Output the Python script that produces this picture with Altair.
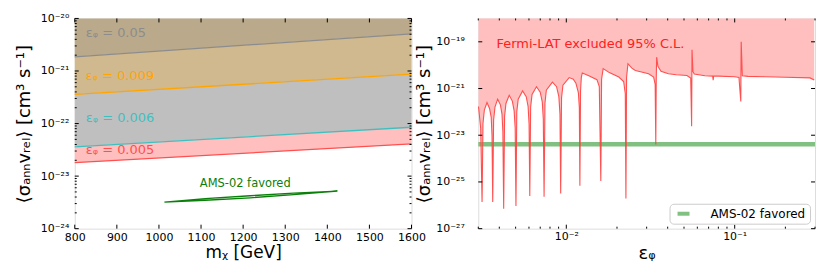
import altair as alt
import pandas as pd

# ---------------- data: left panel ----------------
MX = [800, 1600]
SIG_E005 = [1.86e-21, 5.1e-21]
SIG_E009 = [3.6e-22, 8.7e-22]
SIG_E006 = [3.6e-23, 8.5e-23]
SIG_E0050 = [1.8e-23, 4.1e-23]
LEFT_TOP = [1e-20, 1e-20]

EPS_LABELS = ["εᵩ = 0.05", "εᵩ = 0.009", "εᵩ = 0.006", "εᵩ = 0.005"]
EPS_LABEL_MX = [826, 826, 826, 826]
EPS_LABEL_SIG = [5.2e-21, 7.9e-22, 1.26e-22, 3.16e-23]
LINE_COLORS = ["#8c8c8c", "#ffa500", "#3fc0c0", "#ff5050"]
FILL_COLORS = ["#baaa8b", "#d1b98f", "#bfbfbf", "#ffbfbf"]

AMS_MX = [1013, 1110, 1217, 1320, 1424, 1320, 1217, 1110, 1013]
AMS_SIG = [3.21e-24, 3.72e-24, 4.23e-24, 4.76e-24, 5.19e-24, 4.45e-24, 3.87e-24, 3.47e-24, 3.21e-24]
AMS_TEXT_MX = [1205]
AMS_TEXT_SIG = [7.1e-24]

LEFT_X_TICKS = [800, 900, 1000, 1100, 1200, 1300, 1400, 1500, 1600]
LEFT_Y_TICKS = [1e-24, 1e-23, 1e-22, 1e-21, 1e-20]
LEFT_Y_EXP = [-24, -23, -22, -21, -20]
LEFT_Y_LABELS = ["10⁻²⁴", "10⁻²³", "10⁻²²", "10⁻²¹", "10⁻²⁰"]

# ---------------- data: right panel ----------------
EPS = [0.00301, 0.00310, 0.00316,
       0.00320, 0.00326, 0.00338, 0.00350, 0.00358, 0.00362, 0.003656,
       0.00370, 0.00377, 0.00391, 0.00406, 0.00415, 0.00420, 0.004247,
       0.00430, 0.00438, 0.00458, 0.00478, 0.00490, 0.00497, 0.005023,
       0.00508, 0.00518, 0.00550, 0.00578, 0.00593, 0.00601, 0.006069,
       0.00614, 0.00626, 0.00665, 0.00700, 0.00720, 0.00730, 0.007379,
       0.00747, 0.00761, 0.00827, 0.00875, 0.00903, 0.00917, 0.00926,
       0.00937, 0.00955, 0.0104, 0.0110, 0.0114, 0.0118, 0.01195, 0.01204,
       0.01215, 0.01228, 0.01244, 0.0136, 0.0152, 0.0157, 0.01603,
       0.0162, 0.01655, 0.0180, 0.0205, 0.0219, 0.0224, 0.0226,
       0.0228, 0.02323, 0.0245, 0.0257, 0.0308, 0.0330, 0.0337, 0.0340,
       0.0342, 0.0344, 0.0350, 0.0365, 0.0404, 0.0450, 0.0520, 0.0548, 0.0555,
       0.0558, 0.0565, 0.0575, 0.0665, 0.0740, 0.0745, 0.0750, 0.0800, 0.1000, 0.1060, 0.1087,
       0.1093, 0.1110, 0.1200, 0.1500, 0.2000, 0.2800, 0.2968]
SIGMA = [1.7e-22, 2.0e-23, 1.4e-26,
         3.2e-23, 1.2e-22, 2.5e-22, 1.4e-22, 6e-23, 1.0e-23, 1.4e-26,
         4.5e-23, 1.6e-22, 3.5e-22, 2.0e-22, 8e-23, 1.4e-23, 7.2e-27,
         6.4e-23, 2.3e-22, 5.1e-22, 2.9e-22, 1.1e-22, 2e-23, 9.3e-27,
         1.0e-22, 3.5e-22, 7.9e-22, 4.5e-22, 1.7e-22, 3e-23, 2.5e-26,
         1.6e-22, 5.6e-22, 1.2e-21, 7.0e-22, 2.6e-22, 5e-23, 2.3e-26,
         2.4e-22, 8.5e-22, 1.86e-21, 1.2e-21, 4.5e-22, 8e-23, 3.2e-26,
         4e-22, 1.4e-21, 2.95e-21, 2.5e-21, 1.7e-21, 6.5e-22, 1.5e-22, 6.8e-26,
         8e-22, 3.0e-21, 4.6e-21, 3.5e-21, 2.4e-21, 1.2e-21, 1.1e-25,
         2.5e-21, 7.1e-21, 4.8e-21, 3.1e-21, 2.0e-21, 6e-22, 1.95e-26,
         3e-21, 1.15e-20, 7.5e-21, 5.9e-21, 4.3e-21, 3.1e-21, 1.5e-21, 4e-24,
         2e-21, 2.2e-20, 9e-21, 5.5e-21, 4.3e-21, 3.9e-21, 3.6e-21, 2.8e-21, 2.4e-23,
         4.6e-20, 5.4e-21, 4.2e-21, 3.5e-21, 3.4e-21, 2.3e-21, 3.4e-21, 3.4e-21, 3.2e-21, 3.0e-21, 2.8e-22,
         1.0e-19, 3.5e-21, 3.3e-21, 3.2e-21, 3.05e-21, 2.85e-21, 2.3e-21]
RIGHT_TOP = 1e-18

BAND_EPS = [0.003, 0.3]
BAND_LO = [3.3e-24, 3.3e-24]
BAND_HI = [5.1e-24, 5.1e-24]
BAND_NAME = "AMS-02 favored"

FERMI_TEXT = "Fermi-LAT excluded 95% C.L."
FERMI_TEXT_EPS = [0.00385]
FERMI_TEXT_SIG = [8.2e-20]

RIGHT_X_TICKS = [0.01, 0.1]
RIGHT_X_EXP = [-2, -1]
RIGHT_X_LABELS = ["10⁻²", "10⁻¹"]
RIGHT_X_MINOR = [0.003, 0.004, 0.005, 0.006, 0.007, 0.008, 0.009,
                 0.02, 0.03, 0.04, 0.05, 0.06, 0.07, 0.08, 0.09, 0.2, 0.3]
RIGHT_Y_TICKS = [1e-27, 1e-25, 1e-23, 1e-21, 1e-19]
RIGHT_Y_EXP = [-27, -25, -23, -21, -19]
RIGHT_Y_LABELS = ["10⁻²⁷", "10⁻²⁵", "10⁻²³", "10⁻²¹", "10⁻¹⁹"]

LEFT_Y_MINOR = [k * 10.0 ** e for e in (-24, -23, -22, -21) for k in range(2, 10)]

YTITLE = "⟨σₐₙₙvᵣₑₗ⟩ [cm³ s⁻¹]"

W, H = 338, 211
FONT = "DejaVu Sans"


def lab_expr(labels, exps):
    expr = "''"
    for lab, e in zip(labels, exps):
        expr = f"round(log(datum.value)/LN10) == {e} ? '{lab}' : ({expr})"
    return expr


# ---------------- scales & axes ----------------
lx = alt.Scale(domain=[800, 1600], zero=False, nice=False)
ly = alt.Scale(type="log", domain=[1e-24, 1e-20], nice=False)
rx = alt.Scale(type="log", domain=[0.003, 0.3], nice=False)
ry = alt.Scale(type="log", domain=[1e-27, RIGHT_TOP], nice=False)

common = dict(ticks=False, tickSize=0, domain=False, grid=False, labelFontSize=11,
              titleFontWeight="normal", labelColor="black", titleColor="black")
xaxis_l = alt.Axis(values=LEFT_X_TICKS, format="d", title="mᵪ [GeV]", labelFlush=False,
                   labelPadding=3, titleFontSize=17, titlePadding=2, **common)
yaxis_l = alt.Axis(values=LEFT_Y_TICKS, labelExpr=lab_expr(LEFT_Y_LABELS, LEFT_Y_EXP),
                   title=YTITLE, labelPadding=6, titleFontSize=18, titlePadding=7, **common)
xaxis_r = alt.Axis(values=RIGHT_X_TICKS, labelExpr=lab_expr(RIGHT_X_LABELS, RIGHT_X_EXP),
                   title="εᵩ", labelFlush=False, labelPadding=2, titleFontSize=18,
                   titlePadding=3, **common)
yaxis_r = alt.Axis(values=RIGHT_Y_TICKS, labelExpr=lab_expr(RIGHT_Y_LABELS, RIGHT_Y_EXP),
                   title=YTITLE, labelPadding=14, titleFontSize=18, titlePadding=2, **common)


def XL(f):
    return alt.X(f, scale=lx, axis=xaxis_l)


def YL(f):
    return alt.Y(f, scale=ly, axis=yaxis_l)


def XR(f):
    return alt.X(f, scale=rx, axis=xaxis_r)


def YR(f):
    return alt.Y(f, scale=ry, axis=yaxis_r)


def ticks(vals, X, Y, channel, length):
    df = pd.DataFrame({"v": vals})
    out = []
    if channel == "y":
        out.append(alt.Chart(df).mark_rule(color="black", strokeWidth=1).encode(
            y=Y("v:Q"), x=alt.value(0), x2=alt.value(length)))
        out.append(alt.Chart(df).mark_rule(color="black", strokeWidth=1).encode(
            y=Y("v:Q"), x=alt.value(W - length), x2=alt.value(W)))
    else:
        out.append(alt.Chart(df).mark_rule(color="black", strokeWidth=1).encode(
            x=X("v:Q"), y=alt.value(H - length), y2=alt.value(H)))
        out.append(alt.Chart(df).mark_rule(color="black", strokeWidth=1).encode(
            x=X("v:Q"), y=alt.value(0), y2=alt.value(length)))
    return out


# ---------------- left panel ----------------
ldf = pd.DataFrame({"mx": MX, "top": LEFT_TOP, "s0": SIG_E005, "s1": SIG_E009,
                    "s2": SIG_E006, "s3": SIG_E0050})
cols = ["top", "s0", "s1", "s2", "s3"]
fills = [alt.Chart(ldf).mark_area(color=FILL_COLORS[i], opacity=1).encode(
    x=XL("mx:Q"), y=YL(f"{cols[i + 1]}:Q"), y2=alt.Y2(f"{cols[i]}:Q")) for i in range(4)]
lines = [alt.Chart(ldf).mark_line(color=LINE_COLORS[i], strokeWidth=1.3).encode(
    x=XL("mx:Q"), y=YL(f"{cols[i + 1]}:Q")) for i in range(4)]

labdf = pd.DataFrame({"mx": EPS_LABEL_MX, "s": EPS_LABEL_SIG, "t": EPS_LABELS})
labels = [alt.Chart(labdf.iloc[[i]]).mark_text(
    align="left", baseline="middle", fontSize=13, font=FONT, color=LINE_COLORS[i]).encode(
    x=XL("mx:Q"), y=YL("s:Q"), text="t:N") for i in range(4)]

amsdf = pd.DataFrame({"mx": AMS_MX, "s": AMS_SIG, "i": list(range(len(AMS_MX)))})
ams = alt.Chart(amsdf).mark_line(color="#0a800a", strokeWidth=1.3).encode(
    x=XL("mx:Q"), y=YL("s:Q"), order="i:Q")
amstxt = alt.Chart(pd.DataFrame({"mx": AMS_TEXT_MX, "s": AMS_TEXT_SIG})).mark_text(
    text="AMS-02 favored", color="#0a800a", fontSize=11.5, font=FONT, align="center",
    baseline="middle").encode(x=XL("mx:Q"), y=YL("s:Q"))

left_layers = fills + lines + labels + [ams, amstxt]
left_layers += ticks(LEFT_Y_TICKS, XL, YL, "y", 4) + ticks(LEFT_Y_MINOR, XL, YL, "y", 2)
left_layers += ticks(LEFT_X_TICKS, XL, YL, "x", 4)
left = alt.layer(*left_layers).properties(width=W, height=H)

# ---------------- right panel ----------------
cdf = pd.DataFrame({"eps": EPS, "sig": SIGMA, "top": [RIGHT_TOP] * len(EPS),
                    "i": list(range(len(EPS)))})

excl = alt.Chart(cdf).mark_area(color="#ffbfbf", opacity=1).encode(
    x=XR("eps:Q"), y=YR("sig:Q"), y2=alt.Y2("top:Q"))

bdf = pd.DataFrame({"eps": BAND_EPS, "lo": BAND_LO, "hi": BAND_HI, "name": [BAND_NAME] * 2})
band = alt.Chart(bdf).mark_area(opacity=1).encode(
    x=XR("eps:Q"), y=YR("lo:Q"), y2="hi:Q",
    color=alt.Color("name:N", scale=alt.Scale(domain=[BAND_NAME], range=["#80c080"]),
                    legend=alt.Legend(title=None, orient="bottom-right", offset=5,
                                      padding=4, strokeColor="#cccccc", fillColor="white",
                                      cornerRadius=4, labelFontSize=12, labelFont=FONT,
                                      labelColor="black",
                                      symbolType="M-0.5,-0.5H2.5V0.5H-0.5Z", symbolSize=64,
                                      symbolStrokeWidth=0, symbolOpacity=1, labelOffset=25)))

curve = alt.Chart(cdf).mark_line(color="#ff4040", strokeWidth=1.1, opacity=0.9).encode(
    x=XR("eps:Q"), y=YR("sig:Q"), order="i:Q")

ftxt = alt.Chart(pd.DataFrame({"eps": FERMI_TEXT_EPS, "s": FERMI_TEXT_SIG})).mark_text(
    text=FERMI_TEXT, color="#ff2020", fontSize=13, font=FONT, align="left",
    baseline="middle").encode(x=XR("eps:Q"), y=YR("s:Q"))

right_layers = [excl, band, curve, ftxt]
right_layers += ticks(RIGHT_Y_TICKS, XR, YR, "y", 4)
right_layers += ticks(RIGHT_X_TICKS, XR, YR, "x", 4) + ticks(RIGHT_X_MINOR, XR, YR, "x", 2)
right = alt.layer(*right_layers).properties(width=W, height=H)

chart = alt.hconcat(left, right, spacing=67, bounds="flush").resolve_legend(
    color="independent").configure_view(stroke="black", strokeWidth=1).configure(
    font=FONT, padding={"left": 6, "top": 3, "right": 5, "bottom": 5})

chart.save("out.html", embed_options={"renderer": "svg", "actions": False})
